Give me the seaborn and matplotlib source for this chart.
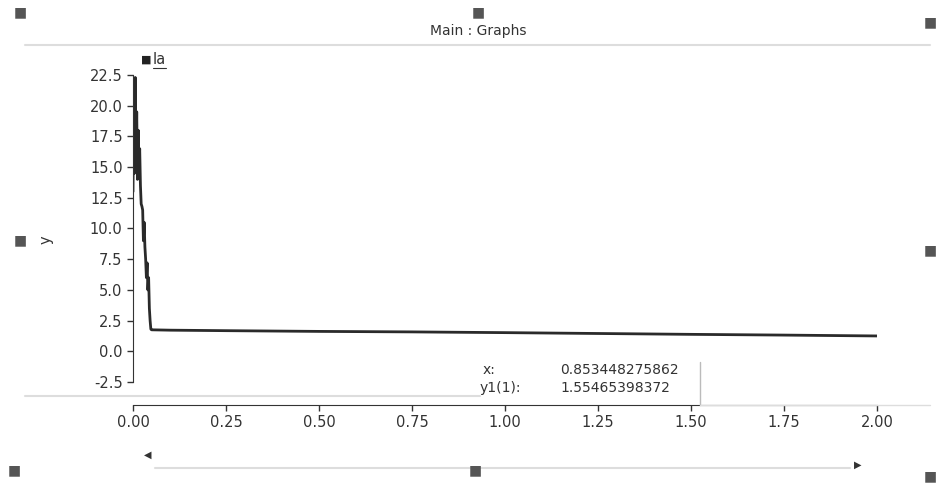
import matplotlib
matplotlib.use('Agg')
import matplotlib.pyplot as plt
import pandas as pd
import seaborn as sns

# start-up transient of Ia (first 50 ms)
time_start = [0.000, 0.002, 0.004, 0.006, 0.008, 0.010, 0.012, 0.014, 0.016,
              0.018, 0.020, 0.022, 0.024, 0.026, 0.028, 0.030, 0.032, 0.034,
              0.036, 0.038, 0.040, 0.042, 0.044, 0.046, 0.048, 0.050]
ia_start = [13.0, 21.8, 14.5, 22.3, 15.0, 19.5, 14.0, 18.0, 14.8,
            16.5, 13.5, 12.0, 11.8, 11.5, 9.0, 10.5, 8.5, 7.5,
            6.0, 7.2, 5.0, 6.0, 3.5, 2.5, 1.8, 1.75]

# steady part
time_tail = [0.10, 0.25, 0.50, 0.75, 0.853448275862, 1.00, 1.25, 1.50, 1.75, 2.00]
ia_tail = [1.72, 1.68, 1.62, 1.58, 1.55465398372, 1.52, 1.45, 1.38, 1.32, 1.25]

y_ticks = [-2.5, 0.0, 2.5, 5.0, 7.5, 10.0, 12.5, 15.0, 17.5, 20.0, 22.5]
x_ticks = [0.00, 0.25, 0.50, 0.75, 1.00, 1.25, 1.50, 1.75, 2.00]

readout_x = '0.853448275862'
readout_y = '1.55465398372'


def main():
    sns.set_style('ticks')
    plt.rcParams['font.family'] = ['DejaVu Sans']

    df = pd.DataFrame({'t': time_start + time_tail, 'Ia': ia_start + ia_tail})

    fig = plt.figure(figsize=(9.4, 4.86), dpi=100)
    ax = fig.add_axes([133 / 940, 1 - 382 / 486, (877 - 133) / 940, (382 - 75) / 486])

    sns.lineplot(data=df, x='t', y='Ia', ax=ax, color='#2a2a2a', linewidth=2)

    ax.set_xlim(0, 2)
    ax.set_ylim(-2.5, 22.5)
    ax.set_xticks(x_ticks)
    ax.set_xticklabels([f'{v:.2f}' for v in x_ticks])
    ax.set_yticks(y_ticks)
    ax.set_yticklabels([f'{v:.1f}' for v in y_ticks])
    ax.set_xlabel('')
    ax.set_ylabel('')
    ax.tick_params(labelsize=10.5, colors='#333333', length=4, width=1)
    ax.spines['top'].set_visible(False)
    ax.spines['right'].set_visible(False)
    ax.spines['bottom'].set_position(('outward', 16.5))
    for side in ['left', 'bottom']:
        ax.spines[side].set_color('#333333')

    # window decorations
    fig.text(478 / 940, 1 - 31 / 486, 'Main : Graphs', ha='center', va='center',
             fontsize=10, color='#333333')
    fig.text(46 / 940, 1 - 240 / 486, 'y', rotation=90, ha='center', va='center',
             fontsize=10.5, color='#333333')
    fig.text(146 / 940, 1 - 60 / 486, '■', ha='center', va='center',
             fontsize=8, color='#222222')
    fig.text(153 / 940, 1 - 59 / 486, 'Ia', ha='left', va='center',
             fontsize=10.5, color='#333333')
    fig.add_artist(plt.Line2D([153 / 940, 166 / 940], [1 - 68 / 486] * 2,
                              color='#333333', linewidth=0.8))

    # cursor readout
    fig.text(483 / 940, 1 - 370 / 486, 'x:', ha='left', va='center',
             fontsize=10, color='#333333')
    fig.text(480 / 940, 1 - 388 / 486, 'y1(1):', ha='left', va='center',
             fontsize=10, color='#333333')
    fig.text(560 / 940, 1 - 370 / 486, readout_x, ha='left', va='center',
             fontsize=10, color='#333333')
    fig.text(560 / 940, 1 - 388 / 486, readout_y, ha='left', va='center',
             fontsize=10, color='#333333')
    fig.add_artist(plt.Line2D([700 / 940, 700 / 940], [1 - 362 / 486, 1 - 405 / 486],
                              color='#bbbbbb', linewidth=1))
    fig.add_artist(plt.Line2D([700 / 940, 930 / 940], [1 - 405 / 486] * 2,
                              color='#dddddd', linewidth=1))

    # separators and scroll arrows
    for y, x0, x1 in [(45, 25, 930), (396, 25, 480), (468, 155, 850)]:
        fig.add_artist(plt.Line2D([x0 / 940, x1 / 940], [1 - y / 486] * 2,
                                  color='#dddddd', linewidth=1.5))
    fig.text(148 / 940, 1 - 455 / 486, '◀', ha='center', va='center',
             fontsize=7, color='#333333')
    fig.text(858 / 940, 1 - 465 / 486, '▶', ha='center', va='center',
             fontsize=7, color='#333333')

    for x, y in [(20, 12), (478, 12), (930, 22), (20, 240), (930, 250),
                 (14, 470), (475, 470), (930, 476)]:
        fig.text(x / 940, 1 - y / 486, '■', ha='center', va='center',
                 fontsize=10, color='#555555')

    fig.savefig('out.png', dpi=100)


if __name__ == '__main__':
    main()
